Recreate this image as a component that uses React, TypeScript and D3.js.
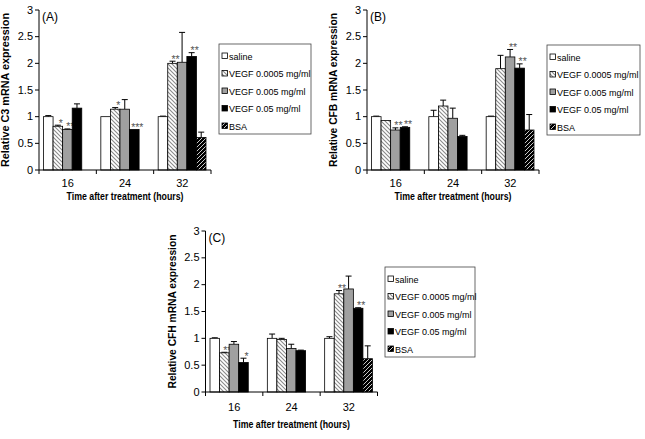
import React from "react";
import * as d3 from "d3";

const categories = ["16", "24", "32"];
const seriesNames = ["saline", "VEGF 0.0005 mg/ml", "VEGF 0.005 mg/ml", "VEGF 0.05 mg/ml", "BSA"];
const yTicks = [0, 0.5, 1, 1.5, 2, 2.5, 3];

// Panel A: C3
const c3Saline = [1.0, 1.0, 1.0];
const c3SalineErr = [0.02, 0, 0.01];
const c3V0005 = [0.82, 1.14, 2.0];
const c3V0005Err = [0.02, 0.03, 0.04];
const c3V005 = [0.76, 1.14, 2.02];
const c3V005Err = [0.01, 0.18, 0.56];
const c3V05 = [1.16, 0.76, 2.13];
const c3V05Err = [0.08, 0, 0.07];
const c3BSA = [null, null, 0.61];
const c3BSAErr = [0, 0, 0.1];
const c3Stars = [["", "*", "**", "", ""], ["", "*", "", "***", ""], ["", "**", "", "**", ""]];

// Panel B: CFB
const cfbSaline = [1.0, 1.0, 1.0];
const cfbSalineErr = [0.01, 0.12, 0.01];
const cfbV0005 = [0.93, 1.2, 1.9];
const cfbV0005Err = [0, 0.11, 0.25];
const cfbV005 = [0.75, 0.97, 2.12];
const cfbV005Err = [0.04, 0.19, 0.14];
const cfbV05 = [0.8, 0.63, 1.91];
const cfbV05Err = [0.01, 0.02, 0.08];
const cfbBSA = [null, null, 0.75];
const cfbBSAErr = [0, 0, 0.29];
const cfbStars = [["", "", "**", "**", ""], ["", "", "", "", ""], ["", "", "**", "**", ""]];

// Panel C: CFH
const cfhSaline = [1.0, 1.0, 1.0];
const cfhSalineErr = [0.01, 0.08, 0.03];
const cfhV0005 = [0.73, 0.98, 1.83];
const cfhV0005Err = [0.01, 0.02, 0.06];
const cfhV005 = [0.89, 0.81, 1.92];
const cfhV005Err = [0.05, 0.08, 0.24];
const cfhV05 = [0.55, 0.77, 1.56];
const cfhV05Err = [0.08, 0.01, 0.01];
const cfhBSA = [null, null, 0.62];
const cfhBSAErr = [0, 0, 0.24];
const cfhStars = [["", "**", "", "*", ""], ["", "", "", "", ""], ["", "**", "", "**", ""]];

const FONT = "'Liberation Sans Narrow', 'Arial Narrow', 'Liberation Sans', Arial, sans-serif";
const fills = ["#ffffff", "url(#hatchLight)", "#a0a0a0", "#000000", "url(#hatchDark)"];

type PanelProps = {
  label: string;
  yTitle: string;
  x0: number;
  y0: number;
  yTop: number;
  values: (number | null)[][];
  errs: number[][];
  stars: string[][];
  legend: { x: number; y: number; w: number; h: number };
  tickGap: number;
  titleGap: number;
};

function Panel(p: PanelProps) {
  const width = 172;
  const x = d3.scaleBand<string>().domain(categories).range([p.x0, p.x0 + width]).padding(0);
  const bw = x.bandwidth();
  const x1 = d3.scaleBand<string>().domain(seriesNames).range([4.5, bw - 5]).padding(0);
  const y = d3.scaleLinear().domain([0, 3]).range([p.y0, p.yTop]);
  const boundaries = [p.x0, ...categories.map((c) => (x(c) as number) + bw)];

  return (
    <g fontFamily={FONT}>
      {categories.map((c, ci) =>
        seriesNames.map((s, si) => {
          const v = p.values[si][ci];
          if (v == null) return null;
          const bx = (x(c) as number) + (x1(s) as number);
          const w = x1.bandwidth();
          const e = p.errs[si][ci];
          const cx = bx + w / 2;
          const star = p.stars[ci][si];
          return (
            <g key={c + s}>
              {e > 0 && (
                <g stroke="#000" strokeWidth={1}>
                  <line x1={cx} x2={cx} y1={y(v)} y2={y(v + e)} />
                  <line x1={cx - 3} x2={cx + 3} y1={y(v + e)} y2={y(v + e)} />
                </g>
              )}
              <rect x={bx} y={y(v)} width={w} height={p.y0 - y(v)} fill={fills[si]} stroke="#000" strokeWidth={0.8} />
              {star && (
                <text x={cx + 3} y={y(v + e) + 1.5} fontSize={10.5} fill="#555" textAnchor="middle">
                  {star}
                </text>
              )}
            </g>
          );
        })
      )}
      <line x1={p.x0} x2={p.x0} y1={p.yTop} y2={p.y0} stroke="#000" strokeWidth={1} />
      {yTicks.map((t) => (
        <g key={t}>
          <line x1={p.x0 - 4} x2={p.x0} y1={y(t)} y2={y(t)} stroke="#000" />
          <text x={p.x0 - 6} y={y(t) + 3.5} fontSize={11} textAnchor="end" fill="#000">
            {t}
          </text>
        </g>
      ))}
      <line x1={p.x0} x2={p.x0 + width} y1={p.y0} y2={p.y0} stroke="#000" strokeWidth={1} />
      {boundaries.map((b, i) => (
        <line key={i} x1={b} x2={b} y1={p.y0} y2={p.y0 + 4} stroke="#000" />
      ))}
      {categories.map((c) => (
        <text key={c} x={(x(c) as number) + bw / 2} y={p.y0 + p.tickGap + 4} fontSize={11} textAnchor="middle">
          {c}
        </text>
      ))}
      <text
        x={p.x0 + width / 2}
        y={p.y0 + p.titleGap + 4}
        fontSize={11}
        fontWeight="bold"
        textAnchor="middle"
        textLength={117}
        lengthAdjust="spacingAndGlyphs"
      >
        Time after treatment (hours)
      </text>
      <text
        transform={`translate(${p.x0 - 30},${(p.y0 + p.yTop) / 2}) rotate(-90)`}
        fontSize={10.5}
        fontWeight="bold"
        textAnchor="middle"
        textLength={154}
        lengthAdjust="spacingAndGlyphs"
      >
        {p.yTitle}
      </text>
      <text x={p.x0 + 3} y={p.yTop + 11} fontSize={12}>
        {p.label}
      </text>
      <rect x={p.legend.x} y={p.legend.y} width={p.legend.w} height={p.legend.h} fill="#fff" stroke="#444" strokeWidth={0.8} />
      {seriesNames.map((s, si) => {
        const ly = p.legend.y + 12 + si * 17.5;
        return (
          <g key={s}>
            <rect x={p.legend.x + 3} y={ly - 3} width={5.5} height={5.5} fill={fills[si]} stroke="#000" strokeWidth={0.8} />
            <text x={p.legend.x + 10} y={ly + 3.5} fontSize={9}>
              {s}
            </text>
          </g>
        );
      })}
    </g>
  );
}

export default function App() {
  return (
    <svg width={645} height={439} style={{ position: "absolute", left: 0, top: 0, background: "#fff" }}>
      <defs>
        <pattern id="hatchLight" patternUnits="userSpaceOnUse" width={4} height={4}>
          <rect width={4} height={4} fill="#fff" />
          <path d="M-1,-1 L5,5 M-1,3 L1,5 M3,-1 L5,1" stroke="#8a8a8a" strokeWidth={1.1} />
        </pattern>
        <pattern id="hatchDark" patternUnits="userSpaceOnUse" width={4} height={4}>
          <rect width={4} height={4} fill="#000" />
          <path d="M-1,5 L5,-1 M-1,1 L1,-1 M3,5 L5,3" stroke="#fff" strokeWidth={0.8} />
        </pattern>
      </defs>
      <Panel
        label="(A)"
        yTitle="Relative C3 mRNA expression"
        x0={39}
        y0={170}
        yTop={10}
        values={[c3Saline, c3V0005, c3V005, c3V05, c3BSA]}
        errs={[c3SalineErr, c3V0005Err, c3V005Err, c3V05Err, c3BSAErr]}
        stars={c3Stars}
        legend={{ x: 219, y: 44, w: 92, h: 90 }}
        tickGap={13}
        titleGap={26}
      />
      <Panel
        label="(B)"
        yTitle="Relative CFB mRNA expression"
        x0={367}
        y0={170}
        yTop={10}
        values={[cfbSaline, cfbV0005, cfbV005, cfbV05, cfbBSA]}
        errs={[cfbSalineErr, cfbV0005Err, cfbV005Err, cfbV05Err, cfbBSAErr]}
        stars={cfbStars}
        legend={{ x: 547, y: 45, w: 93, h: 90 }}
        tickGap={13}
        titleGap={26}
      />
      <Panel
        label="(C)"
        yTitle="Relative CFH mRNA expression"
        x0={205.5}
        y0={392}
        yTop={231}
        values={[cfhSaline, cfhV0005, cfhV005, cfhV05, cfhBSA]}
        errs={[cfhSalineErr, cfhV0005Err, cfhV005Err, cfhV05Err, cfhBSAErr]}
        stars={cfhStars}
        legend={{ x: 385, y: 267, w: 90, h: 90 }}
        tickGap={15}
        titleGap={32}
      />
    </svg>
  );
}
